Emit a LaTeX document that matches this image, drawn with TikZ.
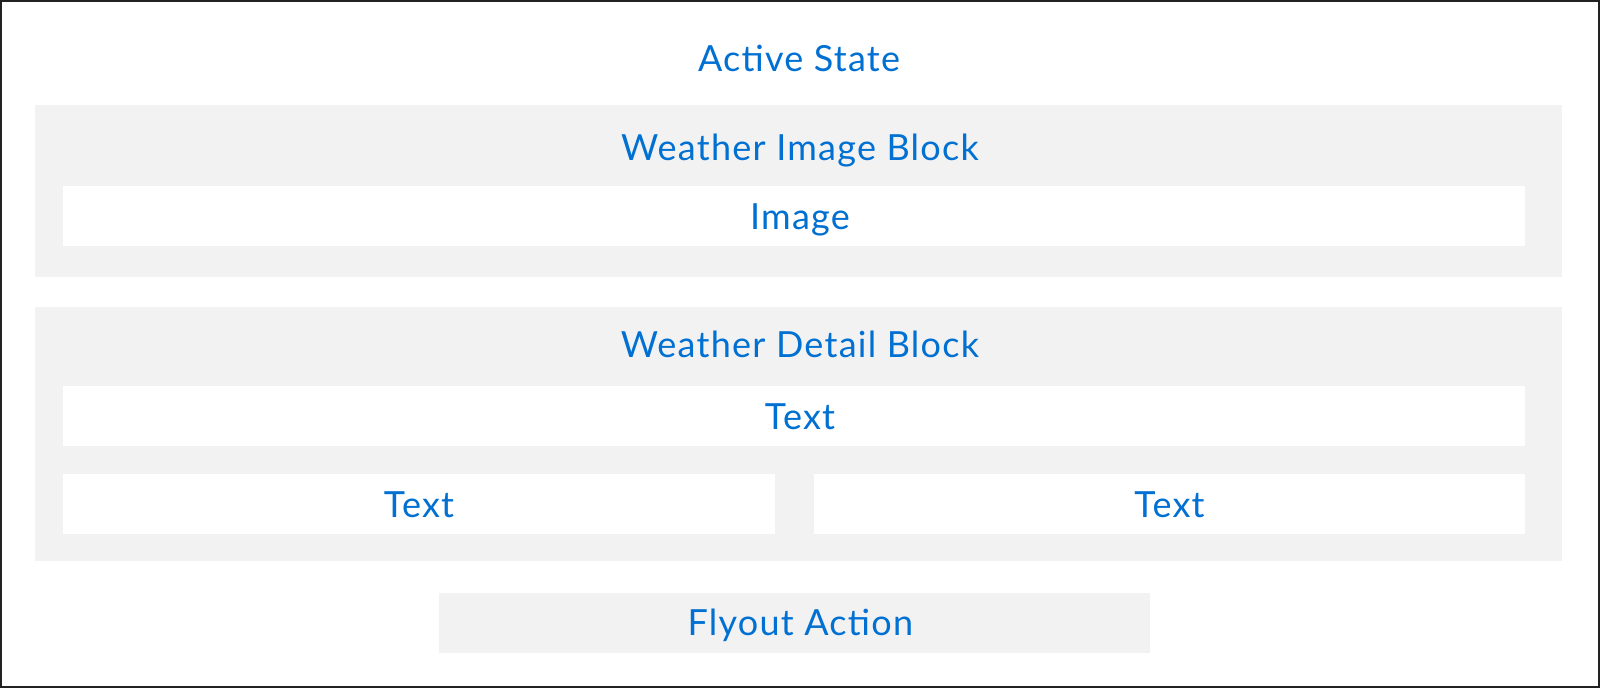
\documentclass[tikz,border=0pt]{standalone}
\usepackage{fontspec}
\setmainfont[LetterSpace=3.5]{Lato}
\definecolor{sfblue}{HTML}{0070D2}
\definecolor{sfgray}{HTML}{F3F2F2}
\definecolor{frame}{HTML}{222222}
\begin{document}
\begin{tikzpicture}[x=1pt,y=-1pt,
  graybox/.style={fill=sfgray,draw=none,inner sep=0pt,outer sep=0pt,anchor=north west},
  whitebox/.style={fill=white,draw=none,inner sep=0pt,outer sep=0pt,anchor=north west},
  lbl/.style={text=sfblue,anchor=base,inner sep=0pt,font=\fontsize{36}{40}\selectfont}]
\useasboundingbox (0,0) rectangle (1600,688);
\node[draw=frame,line width=2pt,fill=white,inner sep=0pt,outer sep=0pt,minimum width=1598pt,minimum height=686pt,anchor=north west] (frame) at (1,1) {};
% Weather image block
\node[graybox,minimum width=1527pt,minimum height=171.4pt] (imgblock) at (34.7,105.3) {};
\node[whitebox,minimum width=1461.7pt,minimum height=60pt] (imgbox) at (63.3,186) {};
% Weather detail block
\node[graybox,minimum width=1527pt,minimum height=254pt] (detblock) at (34.7,306.7) {};
\node[whitebox,minimum width=1461.7pt,minimum height=59.7pt] (text1) at (63.3,386) {};
\node[whitebox,minimum width=711.7pt,minimum height=60pt] (text2) at (63.3,473.7) {};
\node[whitebox,minimum width=711pt,minimum height=60pt] (text3) at (814,473.7) {};
% Flyout
\node[graybox,minimum width=711pt,minimum height=59.7pt] (flyout) at (439,593) {};
% Labels
\node[lbl] (lactive) at (799,71.7) {Active State};
\node[lbl] (limgblock) at (800,160) {Weather Image Block};
\node[lbl] (limg) at (800,229.3) {Image};
\node[lbl] (ldetblock) at (800,357.3) {Weather Detail Block};
\node[lbl] (ltext1) at (800,429.5) {Text};
\node[lbl] (ltext2) at (419,517.3) {Text};
\node[lbl] (ltext3) at (1169.5,517.3) {Text};
\node[lbl] (lflyout) at (800.3,635) {Flyout Action};
\end{tikzpicture}
\end{document}
